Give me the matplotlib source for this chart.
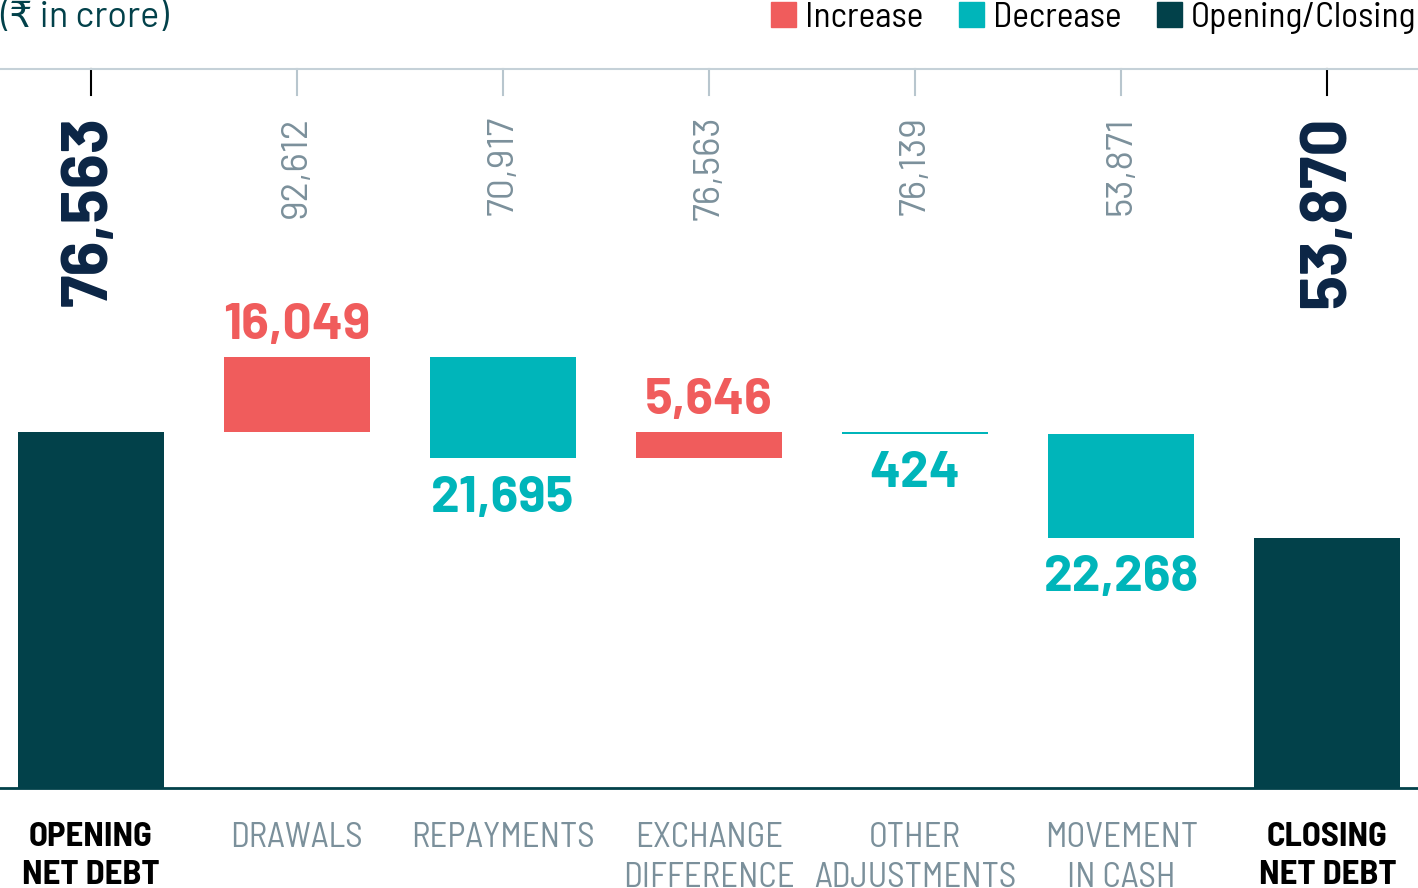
import matplotlib
matplotlib.use("Agg")
import matplotlib.pyplot as plt
from matplotlib.patches import Patch

SEMI = ['Barlow Semi Condensed', 'DejaVu Sans']
WIDE = ['Barlow', 'DejaVu Sans']
plt.rcParams['font.family'] = SEMI

# data
categories = ["OPENING\nNET DEBT", "DRAWALS", "REPAYMENTS", "EXCHANGE\nDIFFERENCE",
              "OTHER\nADJUSTMENTS", "MOVEMENT\nIN CASH", "CLOSING\nNET DEBT"]
changes = [76563, 16049, -21695, 5646, -424, -22268, 53870]
running = [76563, 92612, 70917, 76563, 76139, 53871, 53870]
kinds = ["total", "up", "down", "up", "down", "down", "total"]

c_up = "#F05C5C"
c_down = "#00B5BA"
c_total = "#02414A"
c_navy = "#0B2545"
c_grey = "#7B909B"
colors = {"up": c_up, "down": c_down, "total": c_total}

fig = plt.figure(figsize=(14.18, 8.88), dpi=100)
ax = fig.add_axes([0, 1 - 788 / 888, 1, 719 / 888])

x = list(range(len(categories)))
bottoms = []
prev = 0
for ch, k in zip(changes, kinds):
    if k == "total":
        bottoms.append(0)
        prev = ch
    else:
        bottoms.append(prev)
        prev = prev + ch

ax.bar(x, changes, bottom=bottoms, width=0.71,
       color=[colors[k] for k in kinds], edgecolor="none")

ax.set_xlim(-0.44, 6.44)
ax.set_ylim(0, 76563 * 719 / 356)

for s in ["left", "right"]:
    ax.spines[s].set_visible(False)
ax.spines["top"].set_color("#C5D1D8")
ax.spines["top"].set_linewidth(1.5)
ax.spines["bottom"].set_color(c_total)
ax.spines["bottom"].set_linewidth(2)
ax.set_yticks([])

# category labels
ax.set_xticks(x)
ax.set_xticklabels(categories, fontsize=25, linespacing=1.32)
ax.tick_params(axis="x", length=0, pad=24.5)
for lbl, k in zip(ax.get_xticklabels(), kinds):
    lbl.set_verticalalignment("top")
    if k == "total":
        lbl.set_color("black")
        lbl.set_fontweight("bold")
    else:
        lbl.set_color(c_grey)

# top tick marks and rotated running totals
xt = ax.get_xaxis_transform()
for i, k in enumerate(kinds):
    ax.plot([i, i], [1.0, 0.9638], transform=xt,
            color="black" if k == "total" else "#B8C6CE", lw=1.5, clip_on=False)
    if k == "total":
        ax.text(i, 0.935, f"{running[i]:,}", transform=xt, rotation=90,
                ha="center", va="top", fontsize=47, fontweight="bold",
                color=c_navy, family=WIDE)
    else:
        ax.text(i, 0.935, f"{running[i]:,}", transform=xt, rotation=90,
                ha="center", va="top", fontsize=27, color=c_grey, family=WIDE)

# change labels
for i, (ch, k) in enumerate(zip(changes, kinds)):
    if k == "total":
        continue
    top = max(bottoms[i], bottoms[i] + ch)
    low = min(bottoms[i], bottoms[i] + ch)
    if k == "up":
        ax.annotate(f"{abs(ch):,}", (i, top), xytext=(0, 13), textcoords="offset points",
                    ha="center", va="baseline", fontsize=37, fontweight="bold",
                    color=c_up, family=WIDE)
    else:
        ax.annotate(f"{abs(ch):,}", (i, low), xytext=(0, -38.5), textcoords="offset points",
                    ha="center", va="baseline", fontsize=37, fontweight="bold",
                    color=c_down, family=WIDE)

fig.text(0.0, 0.999, "(\u20b9 in crore)", ha="left", va="top", fontsize=26,
         color=c_total, family=WIDE)

handles = [Patch(color=c_up, label="Increase"),
           Patch(color=c_down, label="Decrease"),
           Patch(color=c_total, label="Opening/Closing")]
fig.legend(handles=handles, loc="upper right", bbox_to_anchor=(0.999, 0.998), ncol=3,
           frameon=False, prop={"family": SEMI, "size": 25.5},
           handlelength=0.72, handleheight=0.72,
           handletextpad=0.25, columnspacing=1.0, borderaxespad=0, borderpad=0)

fig.savefig("out.png", dpi=100)
